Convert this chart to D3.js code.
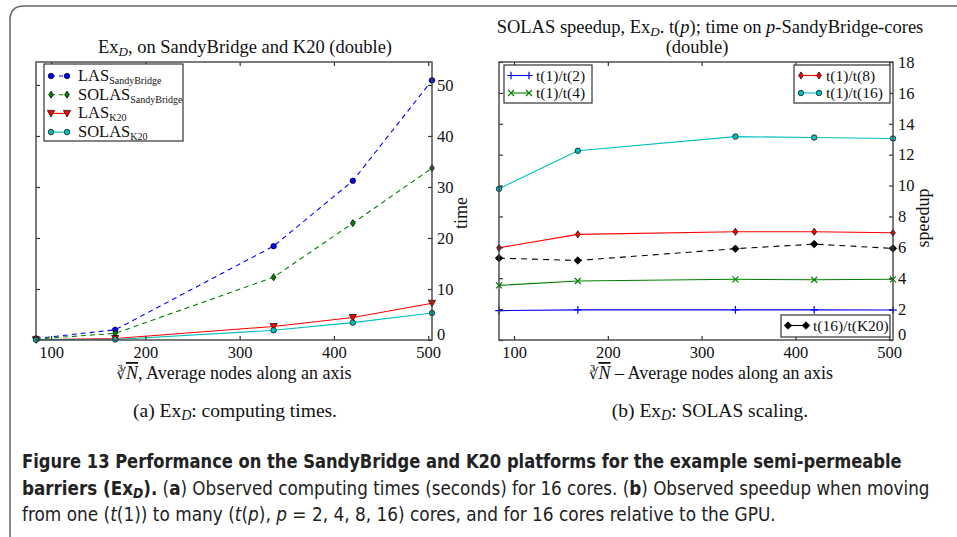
<!DOCTYPE html>
<html><head><meta charset="utf-8">
<script src="https://cdn.jsdelivr.net/npm/d3@7"></script>
<style>
body{margin:0;background:#fff;}
svg{display:block;}
.serif{font-family:"Liberation Serif","DejaVu Serif",serif;fill:#111;}
.cap{font-family:"Liberation Sans Narrow","DejaVu Sans Condensed","Liberation Sans",sans-serif;font-stretch:condensed;fill:#222;}
</style></head><body>
<svg id="c" width="957" height="537"></svg>
<script>
// ---- data ----
const nodes = [84, 168, 336, 420, 504];
const lasSB = [0.3, 2.0, 18.4, 31.2, 50.9];
const solasSB = [0.2, 1.3, 12.3, 22.9, 33.7];
const lasK20 = [0.05, 0.3, 2.65, 4.4, 7.2];
const solasK20 = [0.05, 0.1, 1.9, 3.4, 5.3];
const sp2 = [1.90, 1.95, 1.95, 1.95, 1.94];
const sp4 = [3.54, 3.82, 3.93, 3.90, 3.93];
const sp8 = [5.97, 6.84, 7.01, 7.01, 6.94];
const sp16 = [9.79, 12.25, 13.17, 13.11, 13.05];
const spK20 = [5.30, 5.15, 5.91, 6.21, 5.93];
const xTicks = [100, 200, 300, 400, 500];
const timeTicks = [0, 10, 20, 30, 40, 50];
const speedTicks = [0, 2, 4, 6, 8, 10, 12, 14, 16, 18];

const svg = d3.select("#c");

// figure border
svg.append("path")
  .attr("d", "M10,540 L10,20 Q10,6 24,6 L960,6")
  .attr("fill", "none").attr("stroke", "#666").attr("stroke-width", 1.5);

function marker(t) {
  switch (t) {
    case 'o': return d3.symbol(d3.symbolCircle, 24)();
    case 'd': return "M0,-3.6L2.4,0L0,3.6L-2.4,0Z";
    case 'D': return "M0,-3.8L3.8,0L0,3.8L-3.8,0Z";
    case 'v': return "M-3.6,-3L3.6,-3L0,3.6Z";
    case '+': return "M-3.8,0H3.8M0,-3.8V3.8";
    case 'x': return "M-3,-3L3,3M-3,3L3,-3";
  }
}
function drawMarker(g, t, color, x, y) {
  const open = (t === '+' || t === 'x');
  g.append("path").attr("d", marker(t)).attr("transform", `translate(${x},${y})`)
    .attr("fill", open ? "none" : color)
    .attr("stroke", open ? color : "#000")
    .attr("stroke-width", open ? 1.2 : 0.7);
}

function frame(g, x, y) {
  const [x0, x1] = x.range(), [y1, y0] = y.range();
  g.append("rect").attr("x", x0).attr("y", y0).attr("width", x1 - x0).attr("height", y1 - y0)
    .attr("fill", "none").attr("stroke", "#444").attr("stroke-width", 1.4);
}

function axes(g, x, y, yTicks) {
  const [x0, x1] = x.range(), [y1, y0] = y.range();
  const font = '"Liberation Serif","DejaVu Serif",serif';
  const bottom = g.append("g").attr("transform", `translate(0,${y1})`)
    .call(d3.axisBottom(x).tickValues(xTicks).tickSize(-4).tickPadding(6));
  const top = g.append("g").attr("transform", `translate(0,${y0})`)
    .call(d3.axisTop(x).tickValues(xTicks).tickSize(-4).tickFormat(""));
  const left = g.append("g").attr("transform", `translate(${x0},0)`)
    .call(d3.axisLeft(y).tickValues(yTicks).tickSize(-4).tickFormat(""));
  const right = g.append("g").attr("transform", `translate(${x1},0)`)
    .call(d3.axisRight(y).tickValues(yTicks).tickSize(-4).tickPadding(5));
  [bottom, top, left, right].forEach(a => {
    a.select(".domain").remove();
    a.selectAll("line").attr("stroke", "#333").attr("stroke-width", 1.2);
    a.selectAll("text").attr("font-family", font).attr("font-size", 16.5).attr("fill", "#111");
  });
  // the lowest right-hand label sits just above the bottom tick row
  right.selectAll(".tick text").filter(d => d === 0).attr("dy", "-0.06em");
}

function series(g, x, y, vals, color, dash, m) {
  const line = d3.line().x((d, i) => x(nodes[i])).y(d => y(d));
  g.append("path").datum(vals).attr("d", line).attr("fill", "none")
    .attr("stroke", color).attr("stroke-width", 1.1)
    .attr("stroke-dasharray", dash || null);
  vals.forEach((v, i) => drawMarker(g, m, color, x(nodes[i]), y(v)));
}

// ---------- LEFT CHART ----------
const xL = d3.scaleLinear().domain([84, 504]).range([36, 432]);
const yL = d3.scaleLinear().domain([0, 54.5]).range([340, 62]);
const gL = svg.append("g");
const gLc = gL.append("g");
const leftDefs = [
  {v: lasSB, c: "#0000ff", d: "5,4", m: 'o', n: "LAS", s: "SandyBridge"},
  {v: solasSB, c: "#008000", d: "5,4", m: 'd', n: "SOLAS", s: "SandyBridge"},
  {v: lasK20, c: "#ff0000", d: null, m: 'v', n: "LAS", s: "K20"},
  {v: solasK20, c: "#00bfbf", d: null, m: 'o', n: "SOLAS", s: "K20"}
];
leftDefs.forEach(s => series(gLc, xL, yL, s.v, s.c, s.d, s.m));
axes(gL, xL, yL, timeTicks);
frame(gL, xL, yL);

// title
const tL = gL.append("text").attr("class", "serif").attr("x", 245).attr("y", 53)
  .attr("text-anchor", "middle").attr("font-size", 18.5);
tL.append("tspan").text("Ex");
tL.append("tspan").attr("font-size", 13).attr("font-style", "italic").attr("dy", 3).text("D");
tL.append("tspan").attr("dy", -3).text(", on SandyBridge and K20 (double)");

// x label
function xlabel(g, cx, rest) {
  const t = g.append("text").attr("class", "serif").attr("x", cx).attr("y", 379)
    .attr("text-anchor", "middle").attr("font-size", 18);
  t.append("tspan").attr("font-size", 15).text("∛");
  t.append("tspan").attr("font-style", "italic").attr("text-decoration", "overline").text("N");
  t.append("tspan").text(rest);
}
xlabel(gL, 234, ", Average nodes along an axis");
gL.append("text").attr("class", "serif").attr("font-size", 18)
  .attr("transform", "translate(467,213) rotate(-90)").attr("text-anchor", "middle").text("time");

// left legend
const lg = gL.append("g");
lg.append("rect").attr("x", 44).attr("y", 64).attr("width", 139).attr("height", 77)
  .attr("fill", "#fff").attr("stroke", "#333").attr("stroke-width", 1.2);
leftDefs.forEach((s, i) => {
  const yy = 76 + i * 18.7;
  lg.append("line").attr("x1", 51).attr("x2", 67).attr("y1", yy).attr("y2", yy)
    .attr("stroke", s.c).attr("stroke-width", 1.1).attr("stroke-dasharray", s.d ? "4,4" : null);
  drawMarker(lg, s.m, s.c, 51, yy);
  drawMarker(lg, s.m, s.c, 67, yy);
  const t = lg.append("text").attr("class", "serif").attr("x", 78).attr("y", yy + 5).attr("font-size", 16.5);
  t.append("tspan").text(s.n);
  t.append("tspan").attr("font-size", 10).attr("dy", 3).text(s.s);
});

// ---------- RIGHT CHART ----------
const xR = d3.scaleLinear().domain([84, 504]).range([499, 893]);
const yR = d3.scaleLinear().domain([0, 18]).range([340, 62]);
const gR = svg.append("g");
const gRc = gR.append("g");
const rightDefs = [
  {v: sp2, c: "#0000ff", d: null, m: '+', n: "t(1)/t(2)"},
  {v: sp4, c: "#008000", d: null, m: 'x', n: "t(1)/t(4)"},
  {v: sp8, c: "#ff0000", d: null, m: 'd', n: "t(1)/t(8)"},
  {v: sp16, c: "#00bfbf", d: null, m: 'o', n: "t(1)/t(16)"},
  {v: spK20, c: "#000000", d: "6,5", m: 'D', n: "t(16)/t(K20)"}
];
rightDefs.forEach(s => series(gRc, xR, yR, s.v, s.c, s.d, s.m));
axes(gR, xR, yR, speedTicks);
frame(gR, xR, yR);

const tR1 = gR.append("text").attr("class", "serif").attr("x", 710).attr("y", 33)
  .attr("text-anchor", "middle").attr("font-size", 18.5);
tR1.append("tspan").text("SOLAS speedup, Ex");
tR1.append("tspan").attr("font-size", 13).attr("font-style", "italic").attr("dy", 3).text("D");
tR1.append("tspan").attr("dy", -3).text(". t(");
tR1.append("tspan").attr("font-style", "italic").text("p");
tR1.append("tspan").text("); time on ");
tR1.append("tspan").attr("font-style", "italic").text("p");
tR1.append("tspan").text("-SandyBridge-cores");
gR.append("text").attr("class", "serif").attr("x", 697).attr("y", 53)
  .attr("text-anchor", "middle").attr("font-size", 18.5).text("(double)");

xlabel(gR, 711, " – Average nodes along an axis");
gR.append("text").attr("class", "serif").attr("font-size", 18)
  .attr("transform", "translate(929,218) rotate(-90)").attr("text-anchor", "middle").text("speedup");

function legendBox(g, bx, by, bw, bh, items) {
  g.append("rect").attr("x", bx).attr("y", by).attr("width", bw).attr("height", bh)
    .attr("fill", "#fff").attr("stroke", "#333").attr("stroke-width", 1.2);
  items.forEach((s, i) => {
    const yy = by + 10.5 + i * 17.5;
    g.append("line").attr("x1", bx + 7).attr("x2", bx + 25).attr("y1", yy).attr("y2", yy)
      .attr("stroke", s.c).attr("stroke-width", 1.1);
    drawMarker(g, s.m, s.c, bx + 7, yy);
    drawMarker(g, s.m, s.c, bx + 25, yy);
    g.append("text").attr("class", "serif").attr("x", bx + 32).attr("y", yy + 5)
      .attr("font-size", 15.5).text(s.n);
  });
}
legendBox(gR, 504, 65, 88, 38, [rightDefs[0], rightDefs[1]]);
legendBox(gR, 794, 65, 96, 38, [rightDefs[2], rightDefs[3]]);
legendBox(gR, 781, 315, 109, 22, [rightDefs[4]]);

// ---------- CAPTIONS ----------
function sub(cx, label, rest) {
  const t = svg.append("text").attr("class", "serif").attr("x", cx).attr("y", 417)
    .attr("text-anchor", "middle").attr("font-size", 19.5);
  t.append("tspan").text(label + " Ex");
  t.append("tspan").attr("font-size", 14).attr("font-style", "italic").attr("dy", 3).text("D");
  t.append("tspan").attr("dy", -3).text(rest);
}
sub(235, "(a)", ": computing times.");
sub(710, "(b)", ": SOLAS scaling.");

// caption lines: each fitted to the width it has in the figure
function capLine(y, width, parts) {
  const t = svg.append("text").attr("class", "cap").attr("x", 22).attr("y", y).attr("font-size", 19);
  parts.forEach(p => {
    const s = t.append("tspan").text(p.t);
    if (p.b) s.attr("font-weight", "bold");
    if (p.i) s.attr("font-style", "italic");
    if (p.sub) s.attr("font-size", 14).attr("dy", 3);
    if (p.up) s.attr("dy", -3);
  });
  const natural = t.node().getComputedTextLength();
  const k = width / natural;
  t.attr("transform", `translate(22,${y}) scale(${k},1) translate(-22,${-y})`);
}
capLine(468, 880, [{t: "Figure 13  Performance on the SandyBridge and K20 platforms for the example semi-permeable", b: 1}]);
capLine(495, 908, [
  {t: "barriers (Ex", b: 1}, {t: "D", b: 1, i: 1, sub: 1}, {t: ").", b: 1, up: 1},
  {t: " ("}, {t: "a", b: 1}, {t: ") Observed computing times (seconds) for 16 cores. ("},
  {t: "b", b: 1}, {t: ") Observed speedup when moving"}
]);
capLine(521, 754, [
  {t: "from one ("}, {t: "t", i: 1}, {t: "(1)) to many ("}, {t: "t", i: 1}, {t: "("},
  {t: "p", i: 1}, {t: "), "}, {t: "p", i: 1},
  {t: " = 2, 4, 8, 16) cores, and for 16 cores relative to the GPU."}
]);
</script>
</body></html>
